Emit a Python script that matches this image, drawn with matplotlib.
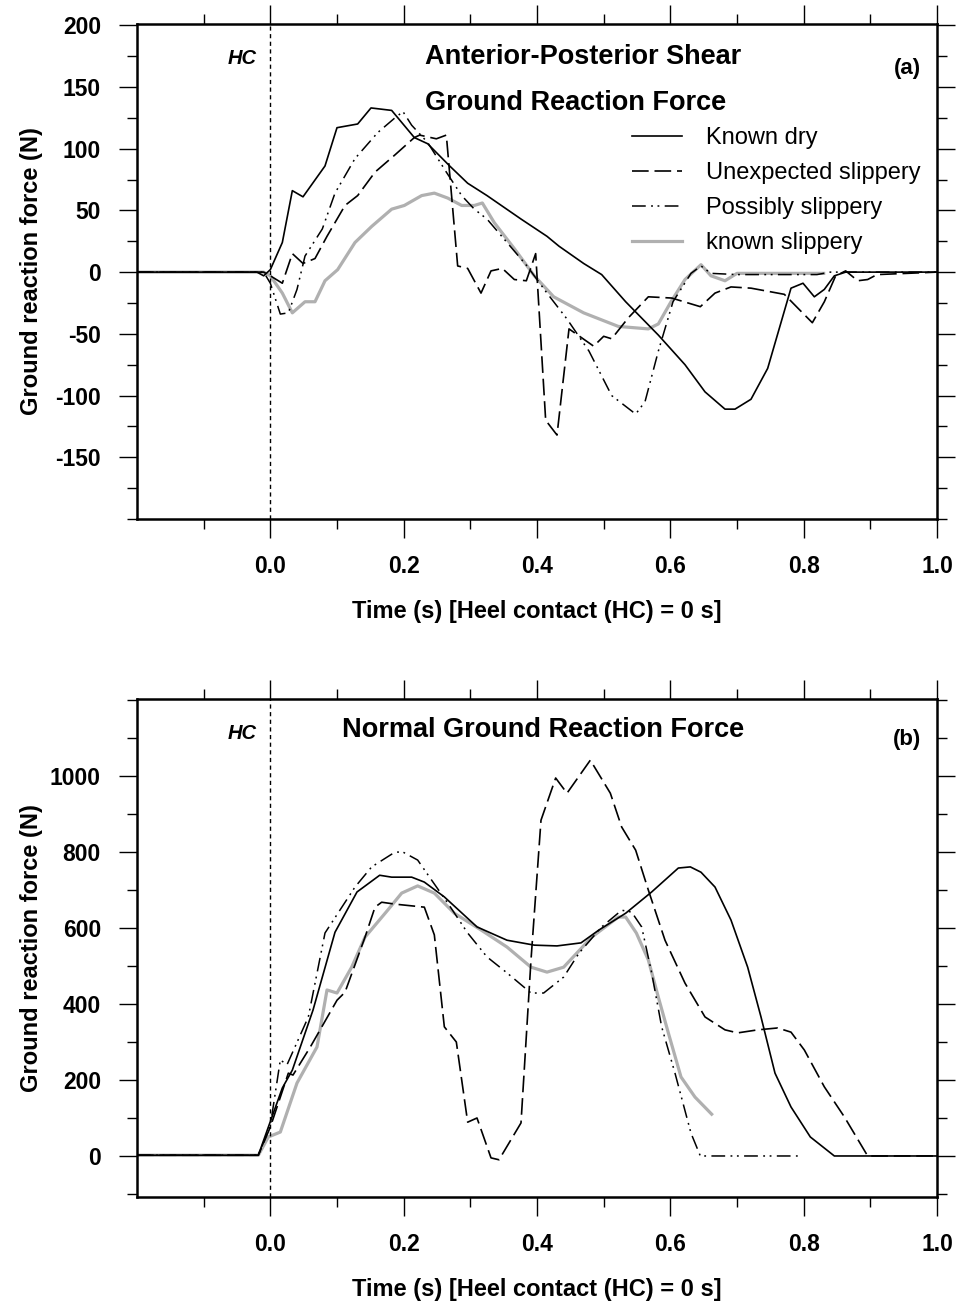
import matplotlib
matplotlib.use("Agg")
import matplotlib.pyplot as plt
from matplotlib.ticker import MultipleLocator, FixedLocator

plt.rcParams['font.family'] = ['Liberation Sans', 'DejaVu Sans']

# ---------------- (a) Anterior-posterior shear GRF ----------------
ap_dry_t = [-0.2, -0.02, -0.01, 0.0, 0.018, 0.033, 0.049, 0.082, 0.10, 0.131, 0.151, 0.182, 0.216, 0.236,
            0.269, 0.296, 0.325, 0.376, 0.415, 0.433, 0.47, 0.497, 0.533, 0.582, 0.622, 0.652, 0.682,
            0.697, 0.721, 0.746, 0.781, 0.799, 0.816, 0.831, 0.846, 0.863, 1.0]
ap_dry_f = [0, 0, -3, 2, 24, 66, 61, 86, 117, 120, 133, 131, 109, 104,
            86, 72, 62, 43, 29, 21, 7, -2, -24, -51, -75, -97, -111,
            -111, -103, -78, -13, -9, -20, -14, -3, 0, 0]

ap_unexp_t = [-0.2, -0.01, 0.0, 0.018, 0.033, 0.049, 0.067, 0.085, 0.112, 0.131, 0.157, 0.187, 0.216,
              0.224, 0.249, 0.264, 0.281, 0.296, 0.316, 0.331, 0.348, 0.366, 0.384, 0.398, 0.413, 0.43,
              0.448, 0.485, 0.5, 0.512, 0.537, 0.567, 0.602, 0.645, 0.667, 0.691, 0.721, 0.771, 0.791,
              0.813, 0.831, 0.848, 0.863, 0.881, 0.896, 0.91, 1.0]
ap_unexp_f = [0, 0, -3, -9, 15, 7, 11, 29, 54, 62, 81, 95, 109,
              111, 108, 111, 5, 3, -17, 1, 3, -6, -7, 15, -120, -132,
              -46, -60, -52, -54, -37, -20, -21, -28, -17, -12, -13, -18, -29,
              -41, -24, -3, 1, -7, -6, -2, 0]

ap_poss_t = [-0.2, -0.01, 0.0, 0.015, 0.027, 0.04, 0.052, 0.078, 0.097, 0.127, 0.161, 0.187, 0.199,
             0.212, 0.236, 0.264, 0.287, 0.306, 0.325, 0.355, 0.385, 0.415, 0.445, 0.478, 0.512, 0.548,
             0.562, 0.582, 0.604, 0.631, 0.646, 0.661, 0.70, 0.82, 0.84, 1.0]
ap_poss_f = [0, 0, -9, -34, -33, -14, 13, 35, 64, 92, 113, 125, 130,
             119, 105, 81, 62, 51, 43, 24, 5, -17, -38, -64, -100, -115,
             -105, -64, -24, -1, 5, -1, -2, -2, 0, 0]

ap_known_t = [-0.2, -0.01, 0.0, 0.018, 0.033, 0.052, 0.067, 0.082, 0.101, 0.127, 0.152, 0.182, 0.201,
              0.227, 0.246, 0.266, 0.287, 0.306, 0.318, 0.336, 0.366, 0.396, 0.425, 0.47, 0.522, 0.567,
              0.582, 0.601, 0.622, 0.646, 0.661, 0.682, 0.70, 0.83]
ap_known_f = [0, 0, -3, -17, -33, -24, -24, -7, 2, 24, 37, 51, 54,
              62, 64, 60, 54, 54, 56, 40, 19, -3, -20, -33, -44, -46,
              -42, -24, -6, 6, -3, -7, -1, -1]

# ---------------- (b) Normal GRF ----------------
n_dry_t = [-0.2, -0.018, -0.003, 0.018, 0.033, 0.064, 0.097, 0.13, 0.164, 0.182, 0.212, 0.231, 0.261,
           0.31, 0.355, 0.396, 0.43, 0.466, 0.493, 0.533, 0.572, 0.612, 0.63, 0.646, 0.667, 0.691,
           0.716, 0.736, 0.757, 0.781, 0.81, 0.846, 1.0]
n_dry_f = [2, 2, 76, 179, 226, 384, 589, 695, 739, 734, 734, 721, 682,
           603, 568, 555, 553, 561, 595, 639, 695, 758, 761, 747, 708, 621,
           497, 366, 218, 129, 50, 0, 0]

n_unexp_t = [-0.2, -0.018, 0.0, 0.027, 0.034, 0.06, 0.1, 0.112, 0.142, 0.157, 0.167, 0.187, 0.231,
             0.246, 0.261, 0.279, 0.296, 0.31, 0.331, 0.343, 0.376, 0.391, 0.406, 0.428, 0.445, 0.48,
             0.51, 0.527, 0.548, 0.567, 0.592, 0.622, 0.652, 0.682, 0.701, 0.731, 0.761, 0.781, 0.801,
             0.831, 0.861, 0.896, 1.0]
n_unexp_f = [2, 2, 76, 218, 213, 287, 410, 431, 576, 655, 668, 663, 655,
             582, 340, 300, 89, 100, -5, -10, 87, 516, 884, 995, 955, 1042,
             955, 866, 805, 700, 568, 455, 366, 332, 324, 332, 337, 326, 279,
             182, 103, 0, 0]

n_poss_t = [-0.2, -0.018, 0.0, 0.015, 0.025, 0.057, 0.082, 0.127, 0.152, 0.187, 0.199, 0.221, 0.242,
            0.266, 0.296, 0.325, 0.355, 0.391, 0.41, 0.44, 0.463, 0.497, 0.527, 0.542, 0.557, 0.572,
            0.587, 0.607, 0.631, 0.645, 0.796]
n_poss_f = [2, 2, 80, 253, 240, 366, 587, 708, 761, 800, 800, 779, 726,
            666, 587, 524, 482, 429, 429, 471, 534, 603, 647, 642, 603, 482,
            340, 218, 60, 0, 0]

n_known_t = [-0.2, -0.018, -0.003, 0.015, 0.04, 0.07, 0.085, 0.1, 0.122, 0.142, 0.176, 0.197, 0.221,
             0.246, 0.276, 0.316, 0.355, 0.391, 0.415, 0.44, 0.482, 0.522, 0.533, 0.549, 0.567, 0.582,
             0.597, 0.616, 0.637, 0.662]
n_known_f = [2, 2, 50, 63, 192, 287, 437, 429, 497, 576, 647, 692, 711,
             692, 639, 595, 550, 497, 484, 497, 576, 629, 629, 587, 516, 418,
             324, 208, 155, 110]

series_labels = ["Known dry", "Unexpected slippery", "Possibly slippery", "known slippery"]
x_major = [0.0, 0.2, 0.4, 0.6, 0.8, 1.0]
x_minor = [-0.1, 0.1, 0.3, 0.5, 0.7, 0.9]
ap_yticks = [-150, -100, -50, 0, 50, 100, 150, 200]
n_yticks = [0, 200, 400, 600, 800, 1000]

styles = [
    dict(color='black', lw=1.2, linestyle='-'),
    dict(color='black', lw=1.2, dashes=(10, 3.5)),
    dict(color='black', lw=1.1, dashes=(9, 3.5, 1.2, 3, 1.2, 3.5)),
    dict(color='#b0b0b0', lw=2.3, linestyle='-'),
]

fig = plt.figure(figsize=(9.58, 13.02), dpi=100)
ax1 = fig.add_axes([137/958, 1-519/1302, 800/958, 495/1302])
ax2 = fig.add_axes([137/958, 1-1197/1302, 800/958, 498/1302])

def style_axes(ax, ylim, ymaj, ymin):
    ax.set_xlim(-0.2, 1.0)
    ax.set_ylim(*ylim)
    ax.xaxis.set_major_locator(FixedLocator(x_major))
    ax.xaxis.set_minor_locator(FixedLocator(x_minor))
    ax.set_xticklabels([f"{v:.1f}" for v in x_major])
    ax.yaxis.set_major_locator(FixedLocator(ymaj))
    ax.yaxis.set_minor_locator(MultipleLocator(ymin))
    ax.set_yticklabels([str(v) for v in ymaj])
    ax.tick_params(axis='x', which='major', direction='out', length=13.5, width=1.0,
                   top=True, bottom=True, labelsize=16.5, pad=12.5)
    ax.tick_params(axis='x', which='minor', direction='out', length=7, width=1.0,
                   top=True, bottom=True)
    ax.tick_params(axis='y', which='major', direction='out', length=13, width=1.0,
                   left=True, right=True, labelsize=16.5, pad=13)
    ax.tick_params(axis='y', which='minor', direction='out', length=7, width=1.0,
                   left=True, right=True)
    for lab in ax.get_xticklabels() + ax.get_yticklabels():
        lab.set_fontweight('bold')
    for sp in ax.spines.values():
        sp.set_linewidth(1.8)
    ax.axvline(0.0, color='black', lw=1.0, dashes=(3, 2.5))
    ax.set_xlabel("Time (s) [Heel contact (HC) = 0 s]", fontsize=17, fontweight='bold')
    ax.set_ylabel("Ground reaction force (N)", fontsize=17, fontweight='bold')
    ax.xaxis.set_label_coords(0.5, -0.163)
    ax.yaxis.set_label_coords(-0.1175, 0.5)

# panel a
style_axes(ax1, (-200, 201), ap_yticks, 25)
lines = []
for (t, f), st, lab in zip([(ap_dry_t, ap_dry_f), (ap_unexp_t, ap_unexp_f),
                           (ap_poss_t, ap_poss_f), (ap_known_t, ap_known_f)], styles, series_labels):
    ln, = ax1.plot(t, f, label=lab, **st)
    lines.append(ln)
lines[3].set_zorder(1.5)

leg = ax1.legend(handles=lines, loc='upper left', bbox_to_anchor=(0.619, 0.792), frameon=False,
                 fontsize=17, handlelength=2.13, handletextpad=1.0, labelspacing=0.55,
                 borderpad=0, borderaxespad=0)

ax1.text(0.15, 0.93, "HC", transform=ax1.transAxes, ha='right', va='center',
         fontsize=14.5, fontweight='bold', style='italic')
ax1.text(0.36, 0.933, "Anterior-Posterior Shear", transform=ax1.transAxes, ha='left', va='center',
         fontsize=19.5, fontweight='bold')
ax1.text(0.36, 0.84, "Ground Reaction Force", transform=ax1.transAxes, ha='left', va='center',
         fontsize=19.5, fontweight='bold')
ax1.text(0.9625, 0.91, "(a)", transform=ax1.transAxes, ha='center', va='center',
         fontsize=16, fontweight='bold')

# panel b
style_axes(ax2, (-108, 1203), n_yticks, 100)
for (t, f), st in zip([(n_dry_t, n_dry_f), (n_unexp_t, n_unexp_f),
                       (n_poss_t, n_poss_f), (n_known_t, n_known_f)], styles):
    ln, = ax2.plot(t, f, **st)
    if st['color'] != 'black':
        ln.set_zorder(1.5)

ax2.text(0.15, 0.93, "HC", transform=ax2.transAxes, ha='right', va='center',
         fontsize=14.5, fontweight='bold', style='italic')
ax2.text(0.256, 0.937, "Normal Ground Reaction Force", transform=ax2.transAxes, ha='left', va='center',
         fontsize=19.5, fontweight='bold')
ax2.text(0.9625, 0.918, "(b)", transform=ax2.transAxes, ha='center', va='center',
         fontsize=16, fontweight='bold')

fig.savefig("out.png", dpi=100)
